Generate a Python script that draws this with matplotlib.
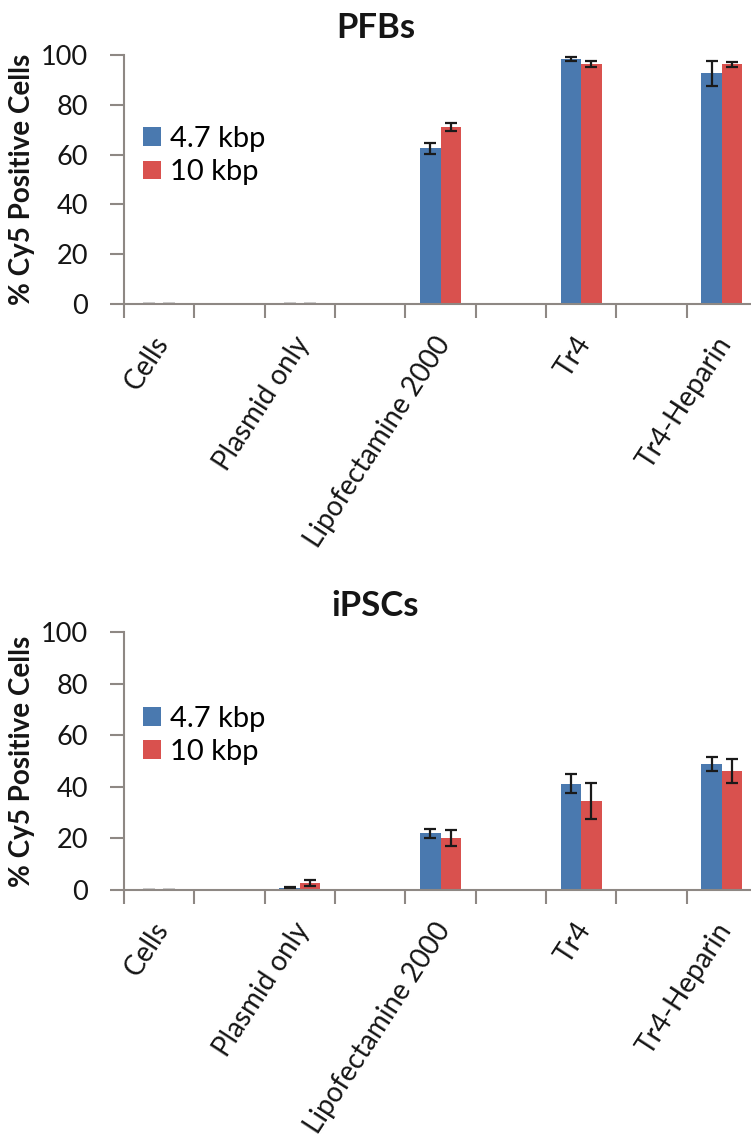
import matplotlib
matplotlib.use("Agg")
import matplotlib.pyplot as plt
import matplotlib.transforms as mtransforms
import numpy as np

plt.rcParams['font.family'] = ['Lato', 'DejaVu Sans']

categories = ["Cells", "Plasmid only", "Lipofectamine 2000", "Tr4", "Tr4-Heparin"]
series_names = ["4.7 kbp", "10 kbp"]

pfb_47 = [0.0, 0.0, 62.5, 98.4, 92.6]
pfb_47_err = [0.0, 0.0, 2.3, 0.8, 5.0]
pfb_10 = [0.0, 0.0, 71.2, 96.3, 96.3]
pfb_10_err = [0.0, 0.0, 1.6, 1.1, 1.0]

ipsc_47 = [0.1, 0.9, 21.9, 41.2, 49.0]
ipsc_47_err = [0.0, 0.3, 1.7, 3.7, 2.7]
ipsc_10 = [0.1, 2.6, 20.3, 34.5, 46.1]
ipsc_10_err = [0.0, 1.2, 3.1, 7.1, 4.8]

titles = ["PFBs", "iPSCs"]
yticks = [0, 20, 40, 60, 80, 100]

blue = "#4A79AF"
red = "#D9514E"
spine_c = "#8E8884"
txt_c = "#151515"

W, H = 751, 1134
fig = plt.figure(figsize=(W / 100, H / 100), dpi=100)

def make_axes(y0_px, y100_px):
    left = 124 / W
    width = (757 - 124) / W
    bottom = 1 - y0_px / H
    height = (y0_px - y100_px) / H
    return fig.add_axes([left, bottom, width, height])

panels = [
    (make_axes(304, 55), pfb_47, pfb_47_err, pfb_10, pfb_10_err, titles[0], 28),
    (make_axes(890, 632), ipsc_47, ipsc_47_err, ipsc_10, ipsc_10_err, titles[1], 606),
]

bw = 0.29
pos = np.arange(len(categories)) * 2
ekw = dict(ecolor="#1a1a1a", elinewidth=1.6, capsize=4.5, capthick=1.6)
shift = mtransforms.ScaledTranslation(-7 / 100, 0, fig.dpi_scale_trans)
for ax, v1, e1, v2, e2, title, ty in panels:
    ax.bar(pos - bw / 2, v1, bw, color=blue, label=series_names[0], yerr=e1, error_kw=ekw)
    ax.bar(pos + bw / 2, v2, bw, color=red, label=series_names[1], yerr=e2, error_kw=ekw)
    ax.set_xlim(-0.5, 8.5)
    ax.set_ylim(0, 100)
    ax.set_yticks(yticks)
    ax.set_xticks(np.arange(-0.5, 9.0, 1.0))
    ax.set_xticklabels([])
    ax.set_xticks(pos, categories, minor=True)
    ax.tick_params(axis='x', which='minor', length=0, pad=20, labelsize=20, labelcolor=txt_c)
    for lbl in ax.get_xticklabels(minor=True):
        lbl.set_rotation(57)
        lbl.set_ha('right')
        lbl.set_va('top')
        lbl.set_rotation_mode('anchor')
        lbl.set_transform(lbl.get_transform() + shift)
    ax.tick_params(axis='x', which='major', length=10, width=1.5, color=spine_c, direction='out')
    ax.tick_params(axis='y', length=10, width=1.5, color=spine_c, direction='out',
                   labelsize=19.5, labelcolor=txt_c, pad=16)
    for s in ['top', 'right']:
        ax.spines[s].set_visible(False)
    for s in ['left', 'bottom']:
        ax.spines[s].set_color(spine_c)
        ax.spines[s].set_linewidth(1.5)
    ax.set_ylabel("% Cy5 Positive Cells", fontsize=20, fontweight='bold', labelpad=4, color=txt_c)
    ax.legend(loc='upper left', bbox_to_anchor=(0.03, 0.715), frameon=False, fontsize=21,
              handlelength=0.62, handleheight=0.62, handletextpad=0.3, labelspacing=0.25,
              borderaxespad=0, borderpad=0)
    fig.text(0.5, 1 - ty / H, title, ha='center', va='center', fontsize=25, fontweight='bold', color=txt_c)

fig.savefig("out.png", dpi=100, facecolor='white')
